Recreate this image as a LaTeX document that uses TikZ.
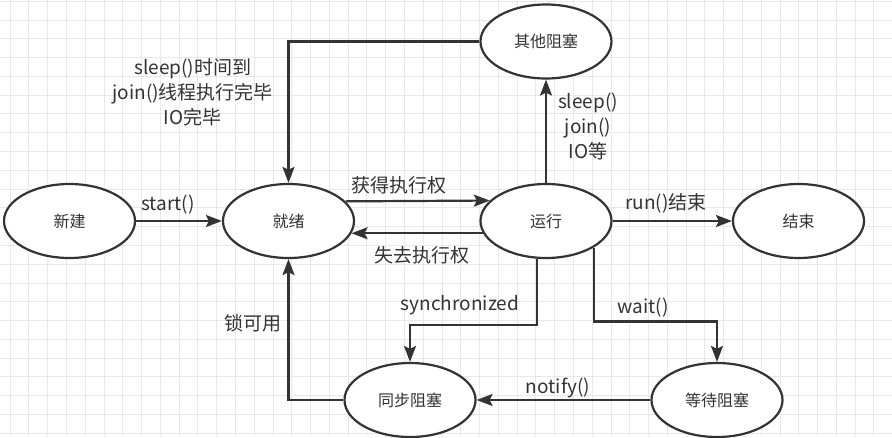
\documentclass[tikz,border=0pt]{standalone}
\usepackage{fontspec}
\newfontfamily\cjk{Noto Sans CJK SC}
\usetikzlibrary{shapes.geometric,arrows.meta}
\definecolor{ink}{RGB}{51,51,51}
\definecolor{gridc}{RGB}{232,232,232}
\tikzset{
  x=1pt, y=-1pt,
  state/.style={ellipse, draw=ink, line width=2.2pt, fill=white, minimum width=131pt, minimum height=74pt, inner sep=0pt, text=ink, font=\cjk\fontsize{16}{19}\selectfont},
  conn/.style={draw=ink, line width=2.2pt, -{Stealth[length=16pt,width=12pt,inset=3pt]}},
  lbl/.style={text=ink, font=\cjk\fontsize{19}{25}\selectfont, inner sep=0pt, align=center},
  gridline/.style={draw=gridc, line width=0.8pt}
}
\begin{document}
\begin{tikzpicture}
\useasboundingbox (0,0) rectangle (892,437);
\fill[white] (0,0) rectangle (892,437);
\foreach \i in {0,...,46} \draw[gridline] ({10+\i*18.78},0) -- ({10+\i*18.78},437);
\foreach \j in {0,...,23} \draw[gridline] (0,{1.2+\j*18.78}) -- (892,{1.2+\j*18.78});

\node[state] (xinjian) at (69.5,221) {新建};
\node[state] (jiuxu) at (288.5,221) {就绪};
\node[state] (yunxing) at (546,221) {运行};
\node[state] (jieshu) at (798.5,221) {结束};
\node[state] (qita) at (546,41.5) {其他阻塞};
\node[state] (tongbu) at (410,400) {同步阻塞};
\node[state] (dengdai) at (717,400) {等待阻塞};

\draw[conn] (xinjian.east) -- (jiuxu.west);
\draw[conn] (jiuxu.19.4) -- (yunxing.160.6);
\draw[conn] (yunxing.191.7) -- (jiuxu.-11.7);
\draw[conn] (yunxing.north) -- (qita.south);
\draw[conn] (qita.west) -| (jiuxu.north);
\draw[conn] (yunxing.east) -- (jieshu.west);
\draw[conn] (yunxing.256.7) -- ++(0,66) -| (tongbu.north);
\draw[conn] (yunxing.-29.8) -- ++(0,74) -| (dengdai.north);
\draw[conn] (dengdai.west) -- (tongbu.east);
\draw[conn] (tongbu.west) -| (jiuxu.south);

\node[lbl] (lstart) at (168,205) {start()};
\node[lbl] (lget) at (398.5,185) {获得执行权};
\node[lbl] (llose) at (422,255) {失去执行权};
\node[lbl] (lback) at (192.7,92) {sleep()时间到\\join()线程执行完毕\\IO完毕};
\node[lbl] (lblock) at (588,126) {sleep()\\join()\\IO等};
\node[lbl] (lrun) at (666,203) {run()结束};
\node[lbl] (lsync) at (460,305) {synchronized};
\node[lbl] (lwait) at (643,308) {wait()};
\node[lbl] (llock) at (253,323) {锁可用};
\node[lbl] (lnotify) at (558,388) {notify()};
\end{tikzpicture}
\end{document}
